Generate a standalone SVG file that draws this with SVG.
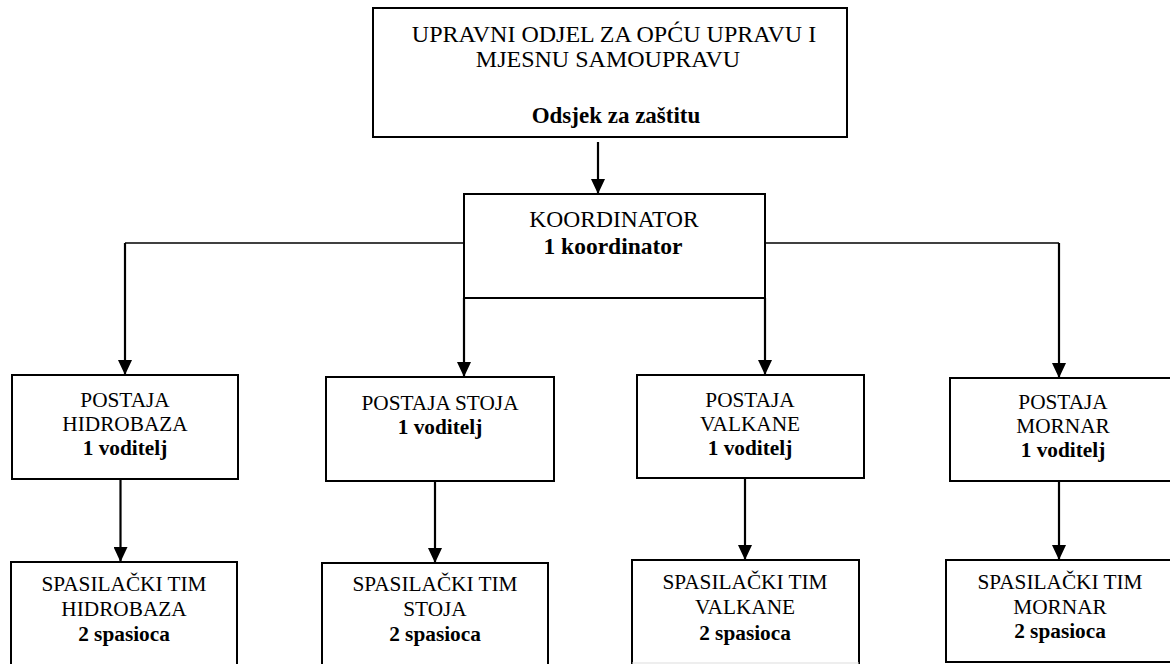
<svg xmlns="http://www.w3.org/2000/svg" width="1170" height="664" viewBox="0 0 1170 664">
<defs>
<style>
.box{fill:#fff;stroke:#000;stroke-width:2}
.t{font-family:"Liberation Serif","Times New Roman",serif;font-size:21.3px;text-anchor:middle;fill:#000}
.b{font-weight:bold}
.big{font-size:24px}
.k{font-size:23.5px}
.ln{fill:none;stroke:#000;stroke-width:1.6}
.ar{fill:none;stroke:#000;stroke-width:2.2}
</style>
<marker id="ah" markerUnits="userSpaceOnUse" markerWidth="15" markerHeight="14" refX="15" refY="7" orient="auto" viewBox="0 0 15 14">
<path d="M0,0 L15,7 L0,14 z" fill="#000"/>
</marker>
</defs>
<rect width="1170" height="664" fill="#fff"/>
<g id="connectors">
<path class="ar" d="M598,142 V194" marker-end="url(#ah)"/>
<path class="ln" d="M464,243 H125"/>
<path class="ar" d="M125,243 V375" marker-end="url(#ah)"/>
<path class="ln" d="M765,243 H1059"/>
<path class="ar" d="M1059,243 V378" marker-end="url(#ah)"/>
<path class="ar" d="M464,298 V377" marker-end="url(#ah)"/>
<path class="ar" d="M765,298 V375" marker-end="url(#ah)"/>
<path class="ar" d="M120.5,479 V562" marker-end="url(#ah)"/>
<path class="ar" d="M435,481 V563" marker-end="url(#ah)"/>
<path class="ar" d="M745,478 V560" marker-end="url(#ah)"/>
<path class="ar" d="M1059,481 V560" marker-end="url(#ah)"/>
</g>
<g id="upravni">
<rect class="box" x="373" y="8" width="474" height="129"/>
<text class="t big" x="614" y="42">UPRAVNI ODJEL ZA OPĆU UPRAVU I</text>
<text class="t big" x="608" y="67">MJESNU SAMOUPRAVU</text>
<text class="t big b" x="616" y="123" style="font-size:23px">Odsjek za zaštitu</text>
</g>
<g id="koordinator">
<rect class="box" x="464" y="194" width="301" height="104"/>
<text class="t k" x="614" y="227">KOORDINATOR</text>
<text class="t k b" x="613" y="254">1 koordinator</text>
</g>
<g id="postaja-hidrobaza">
<rect class="box" x="12" y="375" width="226" height="104"/>
<text class="t" x="125" y="407">POSTAJA</text>
<text class="t" x="125" y="431">HIDROBAZA</text>
<text class="t b" x="125" y="455">1 voditelj</text>
</g>
<g id="postaja-stoja">
<rect class="box" x="326" y="377" width="228" height="104"/>
<text class="t" x="440" y="410">POSTAJA STOJA</text>
<text class="t b" x="440" y="434">1 voditelj</text>
</g>
<g id="postaja-valkane">
<rect class="box" x="637" y="375" width="227" height="103"/>
<text class="t" x="750" y="407">POSTAJA</text>
<text class="t" x="750" y="431">VALKANE</text>
<text class="t b" x="750" y="455">1 voditelj</text>
</g>
<g id="postaja-mornar">
<rect class="box" x="950" y="378" width="230" height="103"/>
<text class="t" x="1063" y="409">POSTAJA</text>
<text class="t" x="1063" y="433">MORNAR</text>
<text class="t b" x="1063" y="457">1 voditelj</text>
</g>
<g id="tim-hidrobaza">
<rect class="box" x="11" y="562" width="226" height="110"/>
<text class="t" x="124" y="591">SPASILAČKI TIM</text>
<text class="t" x="124" y="616">HIDROBAZA</text>
<text class="t b" x="124" y="641">2 spasioca</text>
</g>
<g id="tim-stoja">
<rect class="box" x="322" y="563" width="226" height="110"/>
<text class="t" x="435" y="591">SPASILAČKI TIM</text>
<text class="t" x="435" y="616">STOJA</text>
<text class="t b" x="435" y="641">2 spasioca</text>
</g>
<g id="tim-valkane">
<rect class="box" x="632" y="560" width="227" height="110"/>
<line x1="632" y1="663" x2="859" y2="663" stroke="#ddd" stroke-width="1"/>
<text class="t" x="745" y="589">SPASILAČKI TIM</text>
<text class="t" x="745" y="614">VALKANE</text>
<text class="t b" x="745" y="640">2 spasioca</text>
</g>
<g id="tim-mornar">
<rect class="box" x="946" y="560" width="234" height="102"/>
<text class="t" x="1060" y="589">SPASILAČKI TIM</text>
<text class="t" x="1060" y="614">MORNAR</text>
<text class="t b" x="1060" y="638">2 spasioca</text>
</g>
</svg>
